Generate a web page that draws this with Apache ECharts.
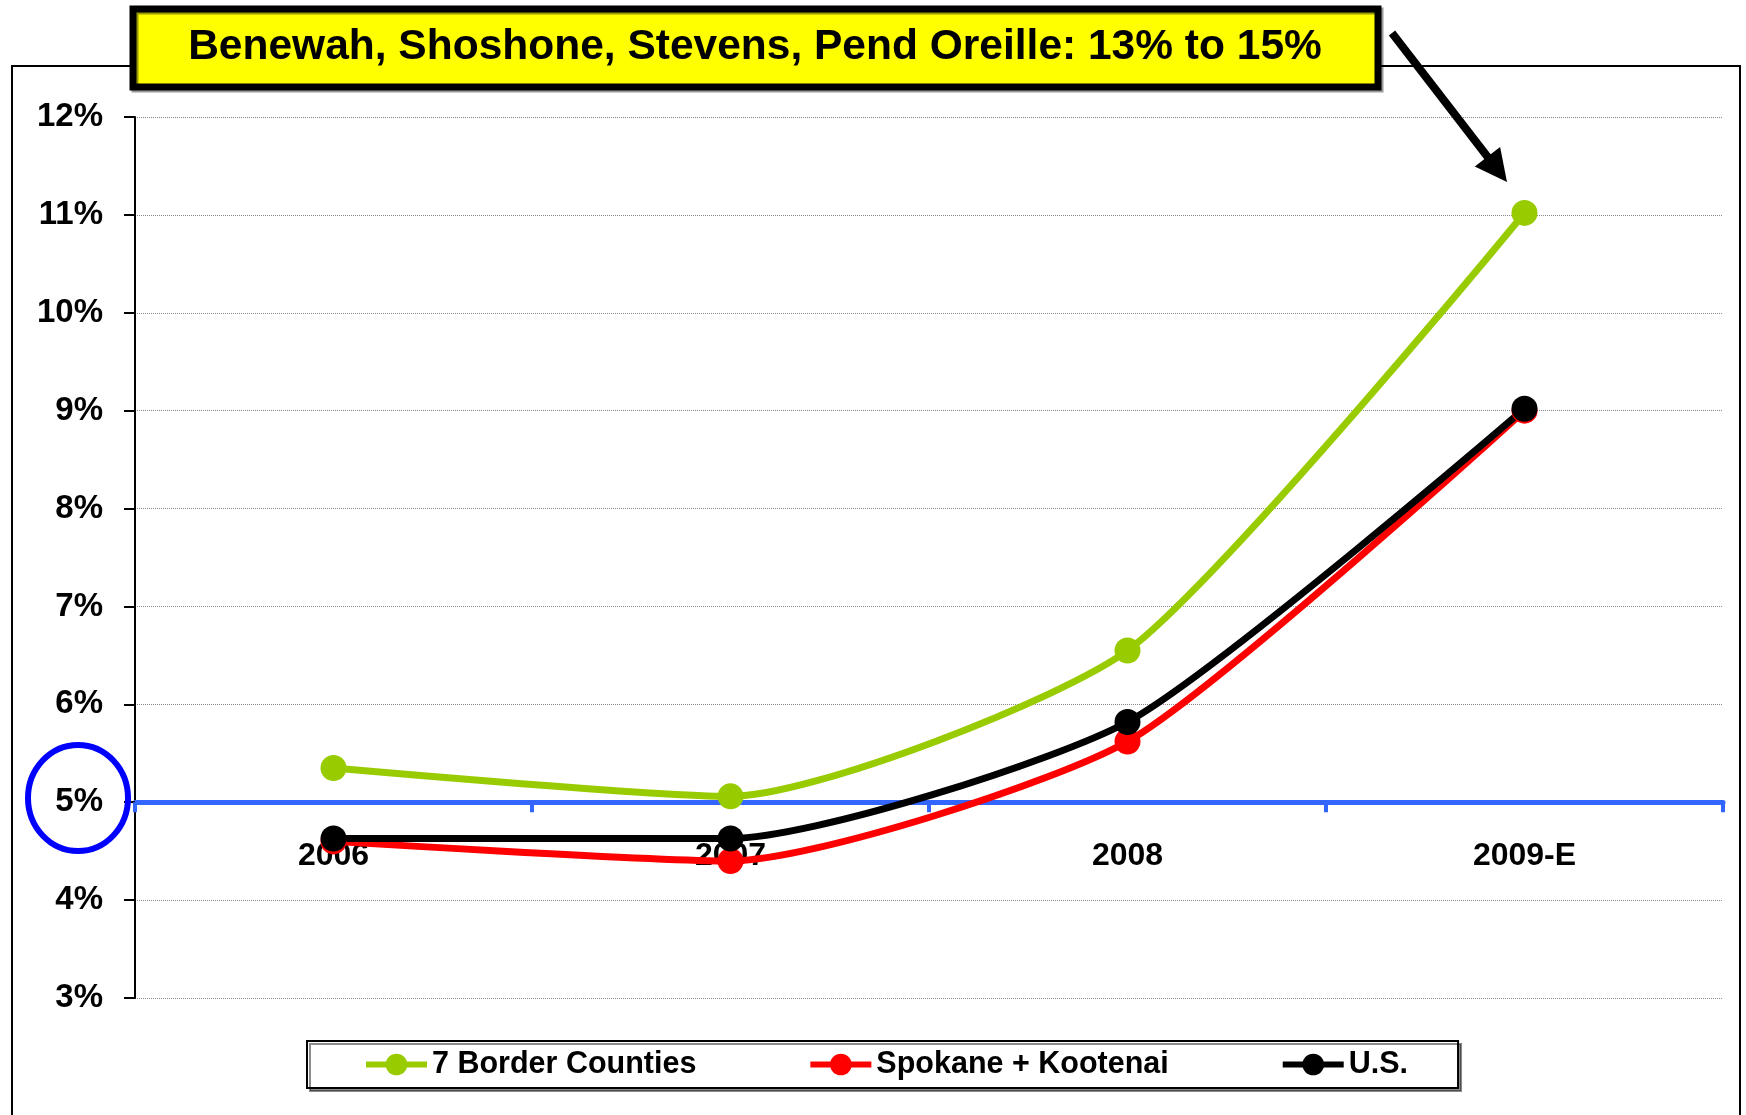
<!DOCTYPE html>
<html>
<head>
<meta charset="utf-8">
<script src="https://cdn.jsdelivr.net/npm/echarts@6/dist/echarts.min.js"></script>
<style>
  html, body { margin: 0; padding: 0; background: #fff; }
  #main { width: 1746px; height: 1115px; }
</style>
</head>
<body>
<div id="main"></div>
<script>
// categories and series values (percent)
var years = ['2006', '2007', '2008', '2009-E'];
var borderCounties = [5.35, 5.06, 6.55, 11.02];
var spokaneKootenai = [4.6, 4.4, 5.62, 9.0];
var usRate = [4.63, 4.63, 5.82, 9.02];
var yTicks = { min: 3, max: 12, step: 1 };
var baseLine = 5; // the blue axis crosses here
var headline = 'Benewah, Shoshone, Stevens, Pend Oreille: 13% to 15%';

var FONT = "'Liberation Sans', Arial, sans-serif";

var myChart = echarts.init(document.getElementById('main'));

// plot area in px
var plotTop = 117, plotBottom = 998, plotLeft = 135, plotRight = 1723;
var baseY = plotBottom - (baseLine - yTicks.min) / (yTicks.max - yTicks.min) * (plotBottom - plotTop);

function makeSeries(name, color, data) {
  return {
    name: name,
    type: 'line',
    xAxisIndex: 0,
    yAxisIndex: 0,
    smooth: 0.2,
    symbol: 'circle',
    symbolSize: 26,
    lineStyle: { color: color, width: 7 },
    itemStyle: { color: color },
    data: data
  };
}

// arrow geometry
var arrowStart = [1392, 33], arrowTip = [1507, 182];
var dx = arrowTip[0] - arrowStart[0], dy = arrowTip[1] - arrowStart[1];
var len = Math.sqrt(dx * dx + dy * dy);
var ux = dx / len, uy = dy / len, headLen = 32, headHalf = 16;
var baseC = [arrowTip[0] - ux * headLen, arrowTip[1] - uy * headLen];

var option = {
  animation: false,
  backgroundColor: '#fff',
  textStyle: { fontFamily: FONT },
  grid: [
    { left: plotLeft, right: 1746 - plotRight, top: plotTop, bottom: 1115 - plotBottom },
    { left: plotLeft, right: 1746 - plotRight, top: plotTop, bottom: 1115 - baseY }
  ],
  legend: {
    left: 307,
    top: 1041,
    itemWidth: 61,
    itemHeight: 27,
    itemGap: 111,
    padding: [8, 50, 8, 56],
    borderColor: '#000',
    borderWidth: 2,
    backgroundColor: '#fff',
    shadowColor: 'rgba(0,0,0,0.45)',
    shadowOffsetX: 3,
    shadowOffsetY: 3,
    shadowBlur: 0,
    lineStyle: { width: 6 },
    textStyle: { fontSize: 30.5, fontWeight: 'bold', color: '#000', fontFamily: FONT },
    data: ['7 Border Counties', 'Spokane + Kootenai', 'U.S.']
  },
  xAxis: [
    {
      type: 'category',
      gridIndex: 0,
      data: years,
      axisLine: { show: false },
      axisTick: { show: false },
      axisLabel: { show: false }
    },
    {
      type: 'category',
      gridIndex: 1,
      data: years,
      position: 'bottom',
      axisLine: { show: true, lineStyle: { color: '#3366FF', width: 5 } },
      axisTick: { show: true, length: 10, lineStyle: { color: '#3366FF', width: 4 } },
      axisLabel: { margin: 38, fontSize: 32, fontWeight: 'bold', color: '#000', fontFamily: FONT }
    }
  ],
  yAxis: [
    {
      type: 'value',
      gridIndex: 0,
      min: yTicks.min,
      max: yTicks.max,
      interval: yTicks.step,
      axisLine: { show: true, lineStyle: { color: '#000', width: 2 } },
      axisTick: { show: true, length: 11, lineStyle: { color: '#000', width: 2 } },
      axisLabel: { margin: 32, fontSize: 33, fontWeight: 'bold', color: '#000', fontFamily: FONT, formatter: '{value}%' },
      splitLine: { show: true, lineStyle: { color: '#888', width: 1, type: 'dotted' } }
    },
    {
      type: 'value',
      gridIndex: 1,
      show: false
    }
  ],
  series: [
    makeSeries('7 Border Counties', '#99CC00', borderCounties),
    makeSeries('Spokane + Kootenai', '#FF0000', spokaneKootenai),
    makeSeries('U.S.', '#000000', usRate)
  ],
  graphic: [
    {
      type: 'rect', z: -10,
      shape: { x: 12, y: 66, width: 1728, height: 1100 },
      style: { fill: null, stroke: '#000', lineWidth: 2 }
    },
    {
      type: 'ellipse', z: 10,
      shape: { cx: 78, cy: 798, rx: 50, ry: 53 },
      style: { fill: null, stroke: '#0000FF', lineWidth: 6 }
    },
    {
      type: 'rect', z: 10,
      shape: { x: 133, y: 9, width: 1245, height: 78 },
      style: { fill: '#FFFF00', stroke: '#000', lineWidth: 7, shadowColor: 'rgba(0,0,0,0.4)', shadowOffsetX: 2, shadowOffsetY: 2 }
    },
    {
      type: 'text', z: 11,
      x: 755, y: 47,
      style: {
        text: headline,
        fontSize: 42.5, fontWeight: 'bold', fontFamily: FONT, fill: '#000',
        align: 'center', verticalAlign: 'middle'
      }
    },
    {
      type: 'line', z: 10,
      shape: { x1: arrowStart[0], y1: arrowStart[1], x2: baseC[0] + ux * 2, y2: baseC[1] + uy * 2 },
      style: { stroke: '#000', lineWidth: 8 }
    },
    {
      type: 'polygon', z: 10,
      shape: {
        points: [
          arrowTip,
          [baseC[0] - uy * headHalf, baseC[1] + ux * headHalf],
          [baseC[0] + uy * headHalf, baseC[1] - ux * headHalf]
        ]
      },
      style: { fill: '#000' }
    }
  ]
};

myChart.setOption(option);
</script>
</body>
</html>
